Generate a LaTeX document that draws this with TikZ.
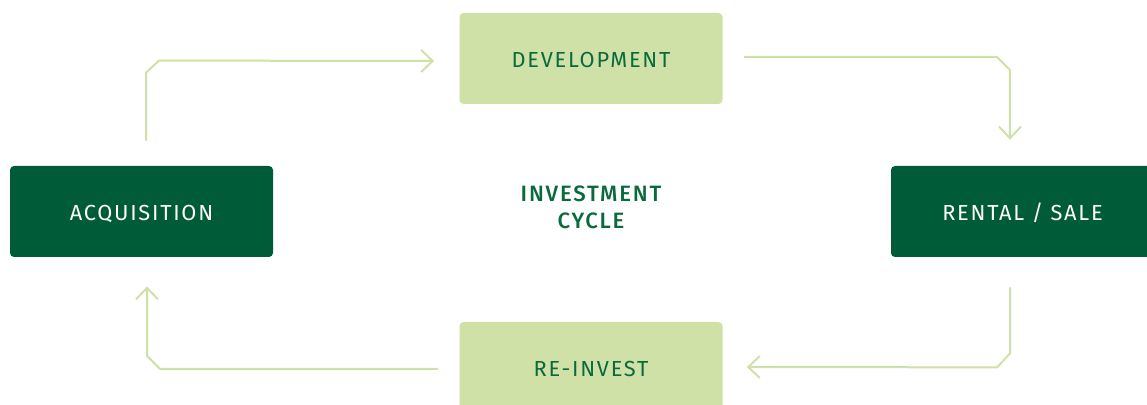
\documentclass[tikz,border=0pt]{standalone}
\usepackage{xcolor}
\usepackage{fontspec}
\setmainfont{Fira Sans}[LetterSpace=8]
\newfontfamily\cyclefont{Fira Sans Medium}[LetterSpace=8]
\usepackage{tikz}
\usetikzlibrary{arrows.meta,calc}

\definecolor{darkleaf}{HTML}{005C38}
\definecolor{paleleaf}{HTML}{D0E1A8}
\definecolor{leaftext}{HTML}{0B6A3C}

\begin{document}
\begin{tikzpicture}[x=0.5pt,y=0.5pt,
  stage/.style={rounded corners=2pt, minimum width=131.5pt, minimum height=45.5pt,
    inner sep=0pt, text height=9.5pt, text depth=0pt, font=\fontsize{10.9}{13}\selectfont},
  darkstage/.style={stage, fill=darkleaf, text=white},
  palestage/.style={stage, fill=paleleaf, text=leaftext},
  flow/.style={draw=paleleaf, line width=1pt,
    -{Straight Barb[length=5.75pt,width=11pt,line width=1pt]}}]
\useasboundingbox (0,0) rectangle (1147,405);

\node[darkstage] (acq) at (141.5,193.5) {ACQUISITION};
\node[palestage] (dev) at (591,346.5) {DEVELOPMENT};
\node[darkstage] (rent) at (1022.5,193.5) {RENTAL / SALE};
\node[palestage] (reinv) at (591,37.5) {RE-INVEST};
\node[text=leaftext, align=center, font=\cyclefont\fontsize{11.1}{13.5}\selectfont]
  (cycle) at (591,197.5) {INVESTMENT\\CYCLE};

\draw[flow] ($(acq.north)+(4.5,25)$) -- ++(0,68) -- ++(13,12) -- ($(dev.west)+(-25,-2.5)$);
\draw[flow] ($(dev.east)+(21,1.5)$) -- ++(253,0) -- ++(13,-13) -- ($(rent.north)+(-12.5,26)$);
\draw[flow] ($(rent.south)+(-12.5,-30)$) -- ++(0,-66) -- ++(-13,-14) -- ($(reinv.east)+(24,0.5)$);
\draw[flow] ($(reinv.west)+(-21,-1.5)$) -- ++(-278,0) -- ++(-13,13) -- ($(acq.south)+(5.5,-29)$);
\end{tikzpicture}
\end{document}
